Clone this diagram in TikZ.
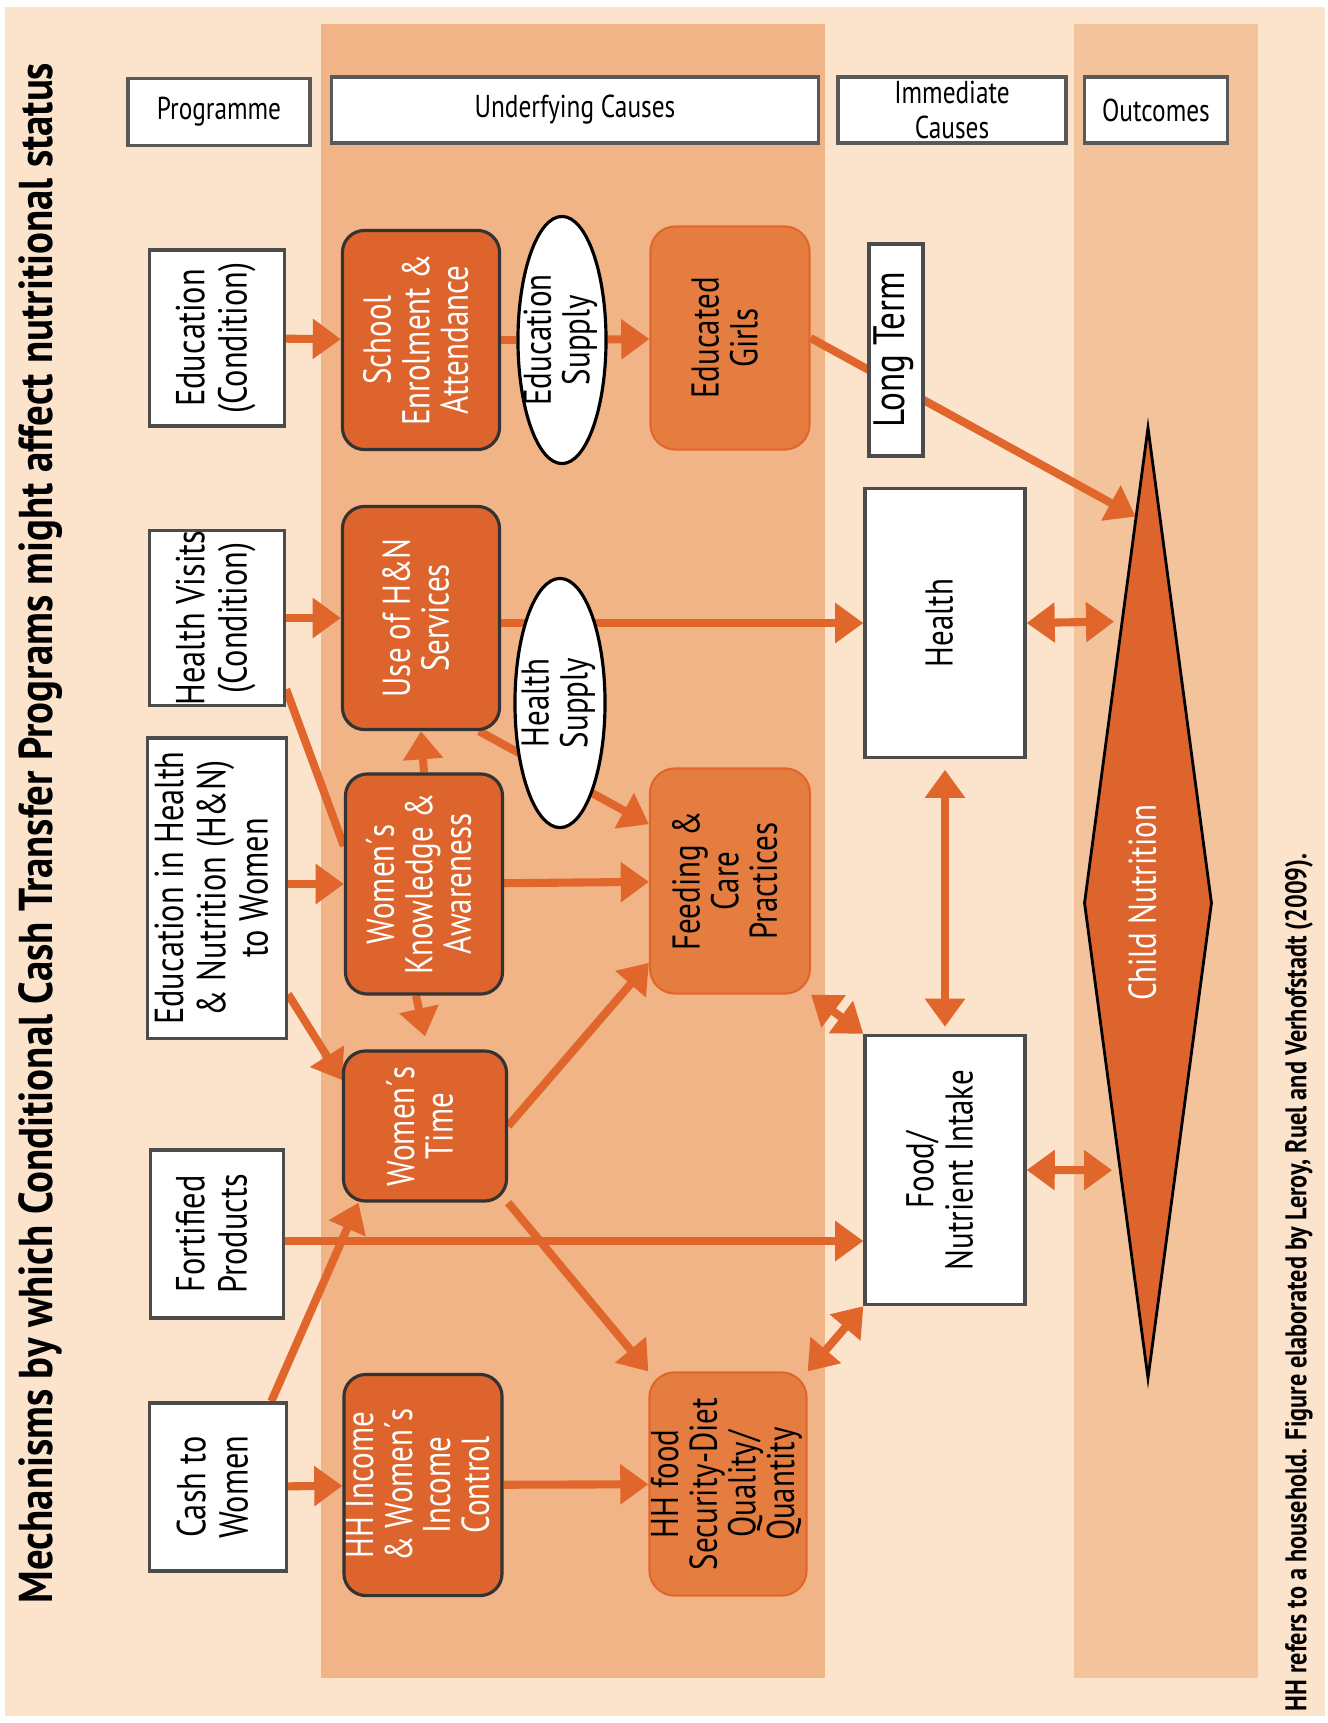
\documentclass[tikz,border=0pt]{standalone}
\usepackage{fontspec}
\usepackage{xcolor}
\usepackage{graphicx}
\usetikzlibrary{shapes.geometric,arrows.meta,calc}
\setmainfont{PT Sans}
\newfontfamily\labfont{PT Sans}[FakeStretch=0.8]
\newfontfamily\titlefont{PT Sans}[FakeStretch=0.86]
\newfontfamily\notefont{PT Sans}[FakeStretch=0.81]
\definecolor{peach}{HTML}{FCE4CC}
\definecolor{bandA}{HTML}{F0B486}
\definecolor{bandB}{HTML}{F3C49C}
\definecolor{darkor}{HTML}{DD652D}
\definecolor{lightor}{HTML}{E67D40}
\definecolor{arrowor}{HTML}{E0662C}
\newcommand{\vlab}[1]{\rotatebox{90}{\begin{tabular}{@{}c@{}}#1\end{tabular}}}
\pgfdeclarelayer{bands}
\pgfdeclarelayer{links}
\pgfsetlayers{bands,links,main}
\tikzset{
  head/.style={draw=black!65,fill=white,line width=0.9pt,inner sep=0pt,align=center,font=\labfont\fontsize{9}{10}\selectfont},
  prog/.style={draw=black!70,fill=white,line width=0.9pt,inner sep=0pt,font=\labfont\fontsize{11.5}{12}\selectfont},
  under/.style={draw=black!80,fill=darkor,rounded corners=0.22cm,line width=0.9pt,inner sep=0pt,text=white,font=\labfont\fontsize{11}{10.5}\selectfont},
  supply/.style={ellipse,draw=black,fill=white,line width=0.9pt,inner xsep=-2.5pt,inner ysep=0pt,font=\labfont\fontsize{11}{10.5}\selectfont},
  result/.style={draw=arrowor,fill=lightor,rounded corners=0.25cm,line width=0.6pt,inner sep=0pt,font=\labfont\fontsize{11}{10.5}\selectfont},
  immed/.style={draw=black!70,fill=white,line width=0.9pt,inner sep=0pt,font=\labfont\fontsize{11}{11}\selectfont},
  link/.style={draw=arrowor,line width=2.3pt},
  arr/.style={link,-{Triangle[length=8pt,width=11pt]}},
  biarr/.style={link,{Triangle[length=8pt,width=11pt]}-{Triangle[length=8pt,width=11pt]}},
}

\begin{document}
\begin{tikzpicture}[x=0.01cm,y=-0.01cm]
\useasboundingbox (0,0) rectangle (1328,1723);
\node (20) at (219,112) [head,minimum width=1.82cm,minimum height=0.67cm] {Programme};
\node (21) at (575,110) [head,minimum width=4.86cm,minimum height=0.66cm] {Underfying Causes};
\node (22) at (952,110) [head,minimum width=2.28cm,minimum height=0.66cm] {Immediate\\Causes};
\node (23) at (1156,110) [head,minimum width=1.43cm,minimum height=0.66cm] {Outcomes};
\node (1) at (217,338) [prog,minimum width=1.35cm,minimum height=1.76cm] {\vlab{Education\\(Condition)}};
\node (2) at (217,618) [prog,minimum width=1.35cm,minimum height=1.73cm] {\vlab{Health Visits\\(Condition)}};
\node (3) at (217,888) [prog,minimum width=1.39cm,minimum height=3.00cm] {\vlab{Education in Health\\\& Nutrition (H\&N)\\to Women}};
\node (4) at (217,1234) [prog,minimum width=1.33cm,minimum height=1.68cm] {\vlab{Fortified\\Products}};
\node (5) at (218,1487) [prog,minimum width=1.37cm,minimum height=1.68cm] {\vlab{Cash to\\Women}};
\node (6) at (421,340) [under,minimum width=1.57cm,minimum height=2.19cm] {\vlab{School\\Enrolment \&\\Attendance}};
\node (7) at (421,618) [under,minimum width=1.57cm,minimum height=2.23cm] {\vlab{Use of H\&N\\Services}};
\node (8) at (424,884) [under,minimum width=1.57cm,minimum height=2.20cm] {\vlab{Women´s\\Knowledge \&\\Awareness}};
\node (9) at (425,1126) [under,minimum width=1.63cm,minimum height=1.50cm] {\vlab{Women´s\\Time}};
\node (10) at (423,1485) [under,minimum width=1.58cm,minimum height=2.21cm] {\vlab{HH Income\\\& Women´s\\Income\\Control}};
\node (11) at (562,340) [supply,minimum width=0.88cm,minimum height=2.47cm] {\vlab{Education\\Supply}};
\node (12) at (560,703) [supply,minimum width=0.90cm,minimum height=2.49cm] {\vlab{Health\\Supply}};
\node (13) at (730,338) [result,minimum width=1.59cm,minimum height=2.23cm] {\vlab{Educated\\Girls}};
\node (14) at (730,881) [result,minimum width=1.60cm,minimum height=2.25cm] {\vlab{Feeding \&\\Care\\Practices}};
\node (15) at (728,1484) [result,minimum width=1.57cm,minimum height=2.23cm] {\vlab{HH food\\Security-Diet\\Quality/\\Quantity}};
\node (16) at (896,350) [immed,minimum width=0.54cm,minimum height=2.12cm,font=\labfont\fontsize{12.5}{12.5}\selectfont] {\vlab{Long Term}};
\node (17) at (945,623) [immed,minimum width=1.60cm,minimum height=2.69cm] {\vlab{Health}};
\node (18) at (945,1170) [immed,minimum width=1.60cm,minimum height=2.69cm] {\vlab{Food/\\Nutrient Intake}};
\node (19) at (1148,903) [diamond,aspect=0.13,draw=black,fill=darkor,line width=0.8pt,inner sep=0pt,minimum width=1.28cm,minimum height=9.51cm,text=white,font=\labfont\fontsize{11}{11}\selectfont] {\vlab{Child Nutrition}};
\node (24) at (41,1604) [rotate=90,anchor=west,inner sep=0pt,font=\titlefont\bfseries\fontsize{13.5}{13.5}\selectfont] {Mechanisms by which Conditional Cash Transfer Programs might affect nutritional status};
\node (25) at (1299,1712) [rotate=90,anchor=west,inner sep=0pt,font=\notefont\bfseries\fontsize{8.5}{8.5}\selectfont] {HH refers to a household. Figure elaborated by Leroy, Ruel and Verhofstadt (2009).};
\begin{pgfonlayer}{bands}
\fill[peach] (5,7) rectangle (1325,1716);
\fill[bandA] (321,24) rectangle (825,1678);
\fill[bandB] (1074,24) rectangle (1258,1678);
\end{pgfonlayer}
\begin{pgfonlayer}{links}
\draw[arr] (1) -- (6);
\draw[link] (6) -- (11);
\draw[arr] (11) -- (13);
\draw[arr] (13.east) -- ($(19.north)!0.19!(19.west)$);
\draw[arr] (2) -- (7);
\draw[arr] (7.east |- 17) -- (17.west);
\draw[arr] ($(7.south east)+(-22,0)$) -- ($(14.north west)!0.25!(14.south west)$);
\draw[link] ($(2.north east)!0.9!(2.south east)$) -- ($(8.north west)!0.33!(8.south west)$);
\draw[arr] (3.east |- 8) -- (8.west);
\draw[arr] ($(3.north east)!0.85!(3.south east)$) -- ($(9.north west)!0.2!(9.south west)$);
\draw[arr] (8) -- (14);
\draw[arr] (8.north) -- (7.south);
\draw[arr] ($(8.south)+(-8,0)$) -- ($(9.north)+(0,-13)$);
\draw[arr] (9.east) -- ($(14.north west)!0.86!(14.south west)$);
\draw[arr] (9.south east) -- (15.north west);
\draw[arr] ($(5.north west)!0.88!(5.north east)$) -- ($(9.south west)!0.1!(9.south east)$);
\draw[arr] (5) -- (10);
\draw[arr] (10) -- (15);
\draw[arr] ($(4.east)+(0,7)$) -- ($(4.east -| 18.west)+(0,7)$);
\draw[biarr] (14.south east) -- (18.north west);
\draw[biarr] (15.north east) -- (18.south west);
\draw[biarr,shorten <=3pt,shorten >=2pt] (17) -- (18);
\draw[biarr,shorten >=2pt] (17.east) -- ($(19.north)!0.41!(19.west)$);
\draw[biarr,shorten >=2pt] (18.east) -- ($(19.west)!0.56!(19.south)$);
\end{pgfonlayer}
\end{tikzpicture}
\end{document}
